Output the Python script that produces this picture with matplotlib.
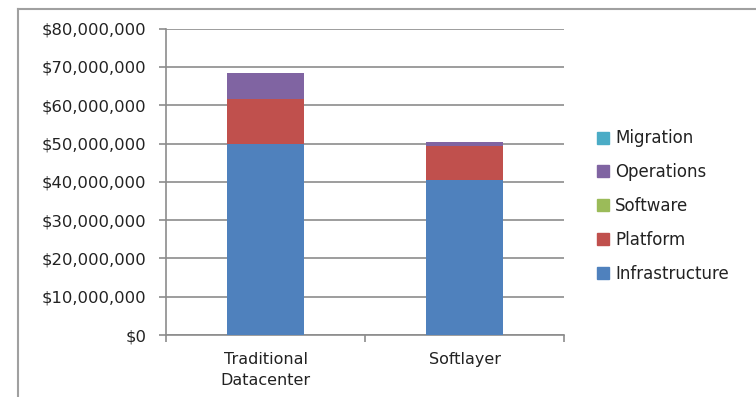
import matplotlib.pyplot as plt
from matplotlib.lines import Line2D
from matplotlib.ticker import FuncFormatter

plt.rcParams['font.family'] = ['DejaVu Sans']

categories = ["Traditional\nDatacenter", "Softlayer"]
series = ["Infrastructure", "Platform", "Software", "Operations", "Migration"]
infrastructure = [50000000, 40500000]
platform = [11600000, 8900000]
software = [0, 0]
operations = [6800000, 1000000]
migration = [0, 0]
colors = ["#4F81BD", "#C0504D", "#9BBB59", "#8064A2", "#4BACC6"]

values = [infrastructure, platform, software, operations, migration]

fig = plt.figure(figsize=(7.56, 3.97), dpi=100)
ax = fig.add_axes([166 / 756, 1 - 335 / 397, 398 / 756, (335 - 28.7) / 397])

# outer chart frame (left and top edges visible)
fig.add_artist(Line2D([18 / 756, 18 / 756], [0, 1 - 9 / 397], color="#a0a0a0", lw=1.5))
fig.add_artist(Line2D([18 / 756, 1], [1 - 9 / 397, 1 - 9 / 397], color="#a0a0a0", lw=1.5))

x = range(len(categories))
bottom = [0, 0]
for name, vals, c in zip(series, values, colors):
    ax.bar(x, vals, width=0.39, bottom=bottom, color=c, label=name, zorder=3)
    bottom = [b + v for b, v in zip(bottom, vals)]

ax.set_xlim(-0.5, 1.5)
ax.set_ylim(0, 80000000)
ax.set_yticks(range(0, 80000001, 10000000))
ax.yaxis.set_major_formatter(FuncFormatter(lambda v, p: "${:,.0f}".format(v)))
ax.yaxis.grid(True, color="#8c8c8c", lw=1.2, zorder=0)

ax.set_xticks([-0.5, 0.5, 1.5])
ax.set_xticklabels([])
ax.set_xticks(list(x), minor=True)
ax.set_xticklabels(categories, minor=True, fontsize=11.5, linespacing=1.5)
ax.tick_params(axis="x", which="minor", length=0, pad=12)
ax.tick_params(axis="x", which="major", length=5, color="#8c8c8c", width=1.2)
ax.tick_params(axis="y", length=5, color="#8c8c8c", width=1.2, labelsize=11.8,
               pad=9, labelcolor="#222222")
for t in ax.get_xticklabels(minor=True):
    t.set_color("#222222")

for s in ["top", "right"]:
    ax.spines[s].set_visible(False)
for s in ["left", "bottom"]:
    ax.spines[s].set_color("#8c8c8c")
    ax.spines[s].set_linewidth(1.2)

handles = [Line2D([], [], marker="s", ls="", color=c, markersize=8) for c in colors]
leg = fig.legend(handles[::-1], series[::-1], loc="center left",
                 bbox_to_anchor=(580 / 756, 1 - 206 / 397), frameon=False,
                 fontsize=12, handletextpad=0.2, labelspacing=0.95,
                 handlelength=1.0, labelcolor="#222222")

fig.savefig("out.png", dpi=100)
